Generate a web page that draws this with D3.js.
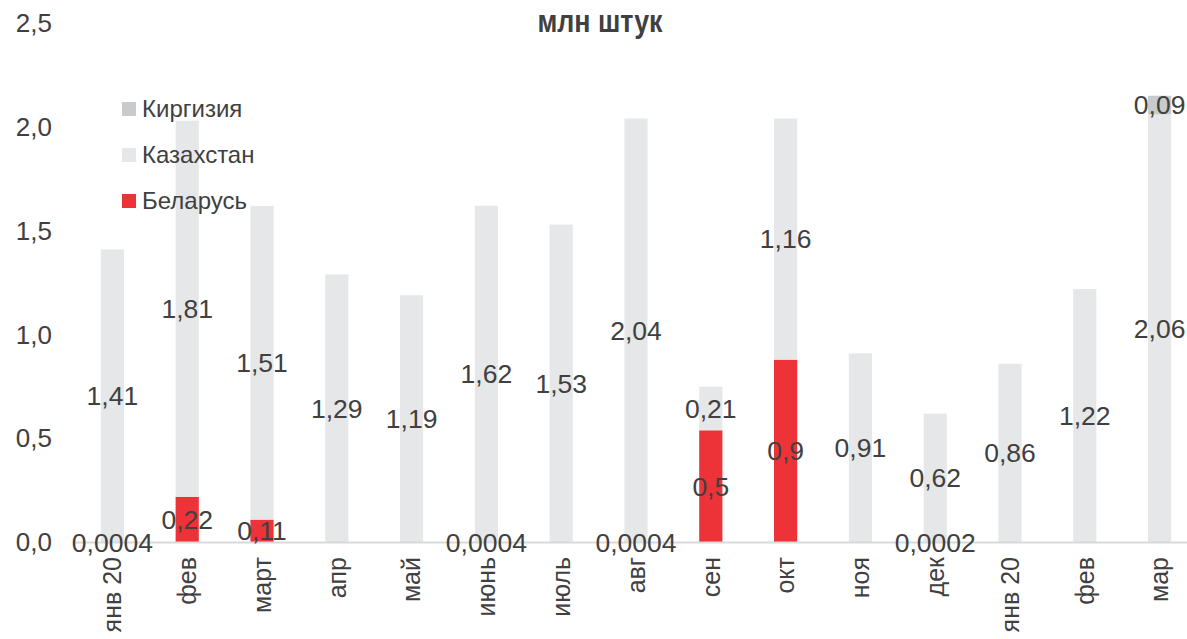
<!DOCTYPE html>
<html lang="ru">
<head>
<meta charset="utf-8">
<title>Экспорт, млн штук</title>
<script src="https://d3js.org/d3.v7.min.js"></script>
<style>
  body { margin: 0; background: #fff; }
  text { font-family: "Liberation Sans", Arial, sans-serif; fill: #404040; }
  .title { font-family: "Liberation Sans Narrow", "Arial Narrow", "Liberation Sans", sans-serif; font-weight: bold; }
</style>
</head>
<body>
<script>
// категории (месяцы)
var months = ["янв 20", "фев", "март", "апр", "май", "июнь", "июль", "авг",
              "сен", "окт", "ноя", "дек", "янв 20", "фев", "мар"];

// ряды, млн штук
var belarus    = [0.0004, 0.22, 0.11, 0, 0, 0.0004, 0, 0.0004, 0.54, 0.88, 0, 0.0002, 0, 0, 0];
var belLabels  = ["0,0004", "0,22", "0,11", "", "", "0,0004", "", "0,0004", "0,5", "0,9", "", "0,0002", "", "", ""];
var kazakhstan = [1.41, 1.81, 1.51, 1.29, 1.19, 1.62, 1.53, 2.04, 0.21, 1.16, 0.91, 0.62, 0.86, 1.22, 2.06];
var kyrgyzstan = [0, 0, 0, 0, 0, 0, 0, 0, 0, 0, 0, 0, 0, 0, 0.09];

var yTicks = [0, 0.5, 1.0, 1.5, 2.0, 2.5];

var w = 1187, h = 639;
var colors = { bel: "#ee3338", kaz: "#e6e7e8", kgz: "#c9cacc" };

var svg = d3.select("body").append("svg")
    .attr("width", w)
    .attr("height", h);

var x = d3.scaleBand()
    .domain(d3.range(months.length))
    .range([75, 1197])
    .paddingInner(0.69)
    .paddingOuter(0.345);

var y = d3.scaleLinear()
    .domain([0, 2.5])
    .range([542.5, 23]);

var comma = function(v, digits) { return v.toFixed(digits).replace(".", ","); };

// ось Y (только подписи)
var yAxis = svg.append("g")
    .attr("transform", "translate(52,0)")
    .call(d3.axisLeft(y).tickValues(yTicks).tickSize(0).tickPadding(0)
          .tickFormat(function(d) { return comma(d, 1); }));
yAxis.select(".domain").remove();
yAxis.selectAll("text")
    .style("font-size", "26px")
    .attr("fill", "#404040");

// заголовок
svg.append("text")
    .attr("class", "title")
    .attr("x", 600)
    .attr("y", 32)
    .attr("text-anchor", "middle")
    .attr("textLength", 125)
    .attr("lengthAdjust", "spacingAndGlyphs")
    .style("font-size", "31px")
    .text("млн штук");

// стек
var rows = months.map(function(m, i) {
    return { i: i, bel: belarus[i], kaz: kazakhstan[i], kgz: kyrgyzstan[i] };
});
var keys = ["bel", "kaz", "kgz"];
var stacked = d3.stack().keys(keys)(rows);

var layers = svg.selectAll("g.layer")
    .data(stacked)
    .enter()
    .append("g")
    .attr("class", "layer")
    .attr("fill", function(d) { return colors[d.key]; });

layers.selectAll("rect")
    .data(function(d) { return d; })
    .enter()
    .append("rect")
    .attr("x", function(d) { return x(d.data.i); })
    .attr("width", x.bandwidth())
    .attr("y", function(d) { return y(d[1]); })
    .attr("height", function(d) { return y(d[0]) - y(d[1]); });

// ось X
svg.append("line")
    .attr("x1", 75).attr("x2", 1197)
    .attr("y1", y(0)).attr("y2", y(0))
    .attr("stroke", "#d9d9d9")
    .attr("stroke-width", 2);

svg.selectAll("text.month")
    .data(months)
    .enter()
    .append("text")
    .attr("class", "month")
    .attr("transform", function(d, i) {
        return "translate(" + (x(i) + x.bandwidth() / 2) + ",557) rotate(-90)";
    })
    .attr("text-anchor", "end")
    .attr("dy", "0.35em")
    .style("font-size", "25px")
    .text(function(d) { return d; });

// подписи значений
var labels = [];
stacked.forEach(function(layer) {
    layer.forEach(function(d) {
        var v = d.data[layer.key];
        if (!v) return;
        var t = layer.key === "bel" ? belLabels[d.data.i] : comma(v, 2);
        labels.push({ x: x(d.data.i) + x.bandwidth() / 2, y: (y(d[0]) + y(d[1])) / 2, t: t });
    });
});

svg.selectAll("text.val")
    .data(labels)
    .enter()
    .append("text")
    .attr("class", "val")
    .attr("x", function(d) { return d.x; })
    .attr("y", function(d) { return d.y; })
    .attr("dy", "0.35em")
    .attr("text-anchor", "middle")
    .style("font-size", "26.5px")
    .text(function(d) { return d.t; });

// легенда
var legendItems = [
    { name: "Киргизия", c: colors.kgz },
    { name: "Казахстан", c: colors.kaz },
    { name: "Беларусь", c: colors.bel }
];
var legend = svg.selectAll("g.legend")
    .data(legendItems)
    .enter()
    .append("g")
    .attr("class", "legend")
    .attr("transform", function(d, i) { return "translate(122," + (109 + i * 46) + ")"; });

legend.append("rect")
    .attr("x", 0).attr("y", -7)
    .attr("width", 14).attr("height", 14)
    .attr("fill", function(d) { return d.c; });

legend.append("text")
    .attr("x", 20)
    .attr("dy", "0.35em")
    .style("font-size", "24px")
    .text(function(d) { return d.name; });
</script>
</body>
</html>
